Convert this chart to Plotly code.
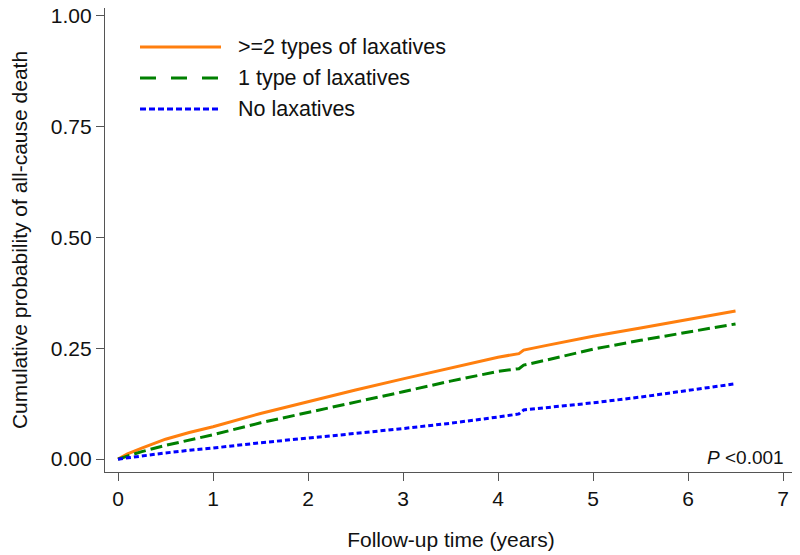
import plotly.graph_objects as go

# ---- data (cumulative probability of all-cause death) ----
time_years = [0, 0.1, 0.25, 0.5, 0.75, 1, 1.5, 2, 2.5, 3, 3.5, 4, 4.22, 4.27, 4.5, 5, 5.5, 6, 6.5]
two_plus_types = [0, 0.012, 0.025, 0.045, 0.060, 0.073, 0.103, 0.130, 0.156, 0.181, 0.206, 0.230,
                  0.238, 0.246, 0.256, 0.277, 0.296, 0.315, 0.334]
one_type = [0, 0.007, 0.017, 0.031, 0.043, 0.055, 0.082, 0.105, 0.129, 0.152, 0.176, 0.198,
            0.204, 0.212, 0.223, 0.248, 0.268, 0.287, 0.305]
no_laxatives = [0, 0.003, 0.007, 0.014, 0.020, 0.025, 0.037, 0.047, 0.058, 0.069, 0.081, 0.095,
                0.102, 0.111, 0.116, 0.127, 0.140, 0.155, 0.170]

series_names = [">=2 types of laxatives", "1 type of laxatives", "No laxatives"]
series_values = [two_plus_types, one_type, no_laxatives]
x_ticks = [0, 1, 2, 3, 4, 5, 6, 7]
y_ticks = [0, 0.25, 0.5, 0.75, 1.0]
y_tick_labels = ["0.00", "0.25", "0.50", "0.75", "1.00"]
p_text = "<i>P</i> <0.001"

colors = ["#FF7F0E", "#008000", "#0000FF"]
dashes = ["solid", "12px,5px", "5px,3px"]
legend_dashes = ["solid", "16px,15px", "6px,3px"]

FONT = "Liberation Sans, Arial, sans-serif"
TXT = "#111111"

# page has an 8px body margin: size the figure so it fits the 800x555 window
OFF = 8
FW, FH = 800 - OFF, 555 - OFF
L, R, T, B = 97, 3, 0, 83
W, H = FW - L - R, FH - T - B
def px_x(p):  # page pixel -> paper
    return (p - OFF - L) / W
def px_y(p):
    return (FH - B - (p - OFF)) / H

fig = go.Figure()
for name, vals, c, d in zip(series_names, series_values, colors, dashes):
    fig.add_trace(go.Scatter(x=time_years, y=vals, mode="lines", name=name,
                             line=dict(color=c, width=3, dash=d), showlegend=False))

# manual legend (long line samples like the original)
legend_rows = [47, 78, 109]
for name, c, d, row in zip(series_names, colors, legend_dashes, legend_rows):
    fig.add_shape(type="line", xref="paper", yref="paper",
                  x0=px_x(140), x1=px_x(221), y0=px_y(row), y1=px_y(row),
                  line=dict(color=c, width=3, dash=d))
    fig.add_annotation(xref="paper", yref="paper", x=px_x(236), y=px_y(row),
                       text=name, showarrow=False, xanchor="left", yanchor="middle",
                       font=dict(family=FONT, size=21.5, color=TXT))

fig.add_annotation(xref="paper", yref="paper", x=px_x(786), y=px_y(457), text=p_text,
                   showarrow=False, xanchor="right", yanchor="middle",
                   font=dict(family=FONT, size=19, color=TXT))

axis_common = dict(showgrid=False, zeroline=False, showline=True, linecolor="#555555",
                   linewidth=1.3, ticks="outside", ticklen=8, tickcolor="#555555",
                   automargin=False, ticklabeloverflow="allow",
                   tickfont=dict(family=FONT, size=21, color=TXT))

fig.update_layout(
    width=FW, height=FH,
    margin=dict(l=L, r=R, t=T, b=B),
    paper_bgcolor="white", plot_bgcolor="white",
    xaxis=dict(range=[-0.137, 7.147], tickvals=x_ticks,
               title=dict(text="Follow-up time (years)", standoff=22,
                          font=dict(family=FONT, size=21, color=TXT)),
               **axis_common),
    yaxis=dict(range=[-0.029, 1.0176], tickvals=y_ticks, ticktext=y_tick_labels,
               title=dict(text="Cumulative probability of all-cause death", standoff=23,
                          font=dict(family=FONT, size=21, color=TXT)),
               **axis_common),
)

fig.write_html("out.html")
